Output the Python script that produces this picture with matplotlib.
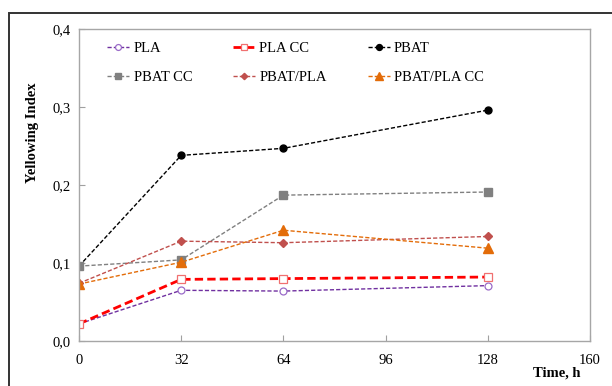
import matplotlib
matplotlib.use("Agg")
import matplotlib.pyplot as plt
from matplotlib.patches import Rectangle
from matplotlib.ticker import FuncFormatter

# data
time_h = [0, 32, 64, 128]
pla = [0.022, 0.065, 0.064, 0.071]
pla_cc = [0.022, 0.079, 0.080, 0.082]
pbat = [0.096, 0.238, 0.247, 0.296]
pbat_cc = [0.096, 0.104, 0.187, 0.191]
pbat_pla = [0.074, 0.128, 0.126, 0.134]
pbat_pla_cc = [0.073, 0.101, 0.142, 0.119]

x_ticks = [0, 32, 64, 96, 128, 160]
y_ticks = [0.0, 0.1, 0.2, 0.3, 0.4]

plt.rcParams["font.family"] = ["Liberation Serif", "DejaVu Serif"]

fig = plt.figure(figsize=(6.12, 3.86), dpi=100)
ax = fig.add_axes([79 / 612, 1 - 341 / 386, 511 / 612, 312 / 386])

# outer frame of the original figure (runs off the right/bottom edge)
fig.patches.append(Rectangle((9 / 612, -0.05), 1.1, 1 - 12.5 / 386 + 0.05,
                             transform=fig.transFigure, fill=False,
                             edgecolor="#333333", linewidth=1.4))

series = [
    ("PLA", pla, dict(color="#7030A0", lw=1.0, marker="o", ms=5,
                      mfc="white", mec="#9A6BC8", mew=0.9)),
    ("PLA CC", pla_cc, dict(color="#FF0000", lw=2.0, marker="s", ms=5.5,
                            mfc="white", mec="#F07070", mew=0.9)),
    ("PBAT", pbat, dict(color="black", lw=1.0, marker="o", ms=5,
                        mfc="black", mec="black")),
    ("PBAT CC", pbat_cc, dict(color="#808080", lw=1.0, marker="s", ms=5.5,
                              mfc="#808080", mec="#808080")),
    ("PBAT/PLA", pbat_pla, dict(color="#C0504D", lw=1.0, marker="D", ms=3.8,
                                mfc="#C0504D", mec="#C0504D")),
    ("PBAT/PLA CC", pbat_pla_cc, dict(color="#E36C09", lw=1.0, marker="^", ms=6.5,
                                      mfc="#E36C09", mec="#E36C09")),
]

lines = {}
for name, vals, style in series:
    lines[name], = ax.plot(time_h, vals, linestyle=(0, (3, 1.5)), label=name, **style)

ax.set_xlim(0, 160)
ax.set_ylim(0, 0.4)
ax.set_xticks(x_ticks)
ax.set_yticks(y_ticks)
ax.yaxis.set_major_formatter(FuncFormatter(lambda v, p: f"{v:.1f}".replace(".", ",")))
ax.tick_params(direction="in", length=4, color="#A0A0A0", labelsize=10.5, pad=6)
ax.tick_params(axis="x", pad=9)
for sp in ax.spines.values():
    sp.set_color("#A6A6A6")
    sp.set_linewidth(1.0)

ax.set_ylabel("Yellowing Index", fontweight="bold", fontsize=10.5)
ax.yaxis.set_label_coords(-0.078, 0.667)
fig.text(557 / 612, 1 - 373 / 386, "Time, h", fontweight="bold", fontsize=10.5,
         ha="center", va="center")

# legend is filled row by row in the original, matplotlib fills column-wise
order = ["PLA", "PBAT CC", "PLA CC", "PBAT/PLA", "PBAT", "PBAT/PLA CC"]
ax.legend([lines[n] for n in order], order, loc="upper left",
          bbox_to_anchor=(0.03, 1.0), ncol=3, frameon=False,
          fontsize=10.5, handlelength=1.5, handletextpad=0.3, columnspacing=2.8,
          labelspacing=1.05, markerscale=0.85)

fig.savefig("out.png", dpi=100)
